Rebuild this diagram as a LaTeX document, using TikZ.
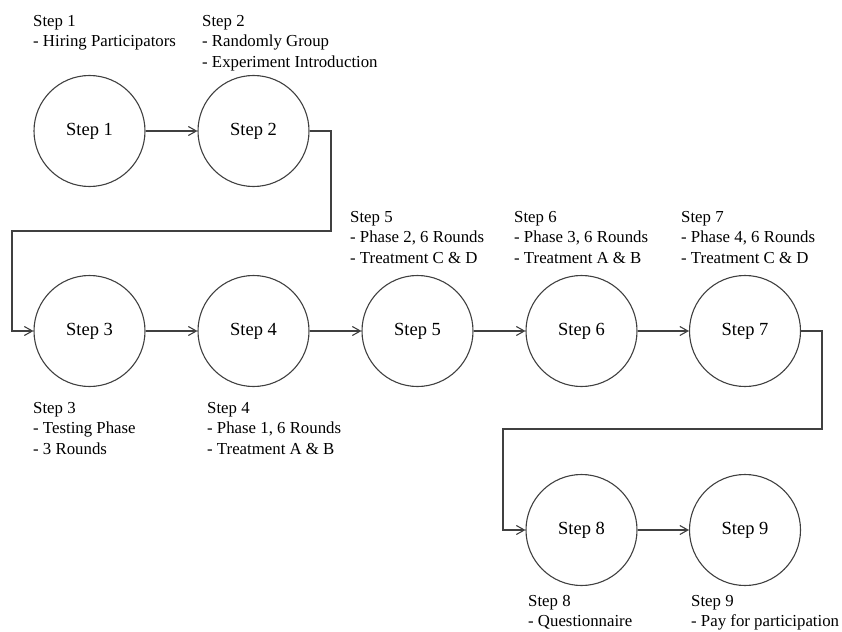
\documentclass[tikz,border=0pt]{standalone}
\usepackage{fontspec}
\setmainfont{Liberation Serif}
\usetikzlibrary{arrows.meta}
\definecolor{linegray}{HTML}{404040}
\begin{document}
\begin{tikzpicture}[x=1pt,y=-1pt,
  stepnode/.style={circle, draw=linegray, line width=1.1pt, minimum size=111pt,
    inner sep=0pt, font=\fontsize{18.5}{22}\selectfont},
  note/.style={anchor=north west, inner sep=0pt, align=left,
    font=\fontsize{16.8}{20.5}\selectfont},
  flow/.style={draw=linegray, line width=1.1pt,
    -{Straight Barb[length=8pt,width=9pt]}}]
\useasboundingbox (0,0) rectangle (842,631);

% process steps
\node[stepnode] (s1) at (89.5,131) {Step 1};
\node[stepnode] (s2) at (253.5,131) {Step 2};
\node[stepnode] (s3) at (89.5,331) {Step 3};
\node[stepnode] (s4) at (253.5,331) {Step 4};
\node[stepnode] (s5) at (417.5,331) {Step 5};
\node[stepnode] (s6) at (581.5,331) {Step 6};
\node[stepnode] (s7) at (745,331) {Step 7};
\node[stepnode] (s8) at (581.5,530) {Step 8};
\node[stepnode] (s9) at (745,530) {Step 9};

% descriptions
\node[note] (n1) at (33,15) {Step 1\\- Hiring Participators};
\node[note] (n2) at (202,15) {Step 2\\- Randomly Group\\- Experiment Introduction};
\node[note] (n3) at (33,402) {Step 3\\- Testing Phase\\- 3 Rounds};
\node[note] (n4) at (207,402) {Step 4\\- Phase 1, 6 Rounds\\- Treatment A \& B};
\node[note] (n5) at (350,211) {Step 5\\- Phase 2, 6 Rounds\\- Treatment C \& D};
\node[note] (n6) at (514,211) {Step 6\\- Phase 3, 6 Rounds\\- Treatment A \& B};
\node[note] (n7) at (681,211) {Step 7\\- Phase 4, 6 Rounds\\- Treatment C \& D};
\node[note] (n8) at (528,595) {Step 8\\- Questionnaire};
\node[note] (n9) at (691,595) {Step 9\\- Pay for participation};

% bends of the long connectors
\coordinate (b1) at (331,231);
\coordinate (b2) at (12,231);
\coordinate (b3) at (822,429);
\coordinate (b4) at (503,429);

% connectors
\draw[flow] (s1) -- (s2);
\draw[flow] (s2.east) -| (b1) -- (b2) |- (s3.west);
\draw[flow] (s3) -- (s4);
\draw[flow] (s4) -- (s5);
\draw[flow] (s5) -- (s6);
\draw[flow] (s6) -- (s7);
\draw[flow] (s7.east) -| (b3) -- (b4) |- (s8.west);
\draw[flow] (s8) -- (s9);
\end{tikzpicture}
\end{document}
